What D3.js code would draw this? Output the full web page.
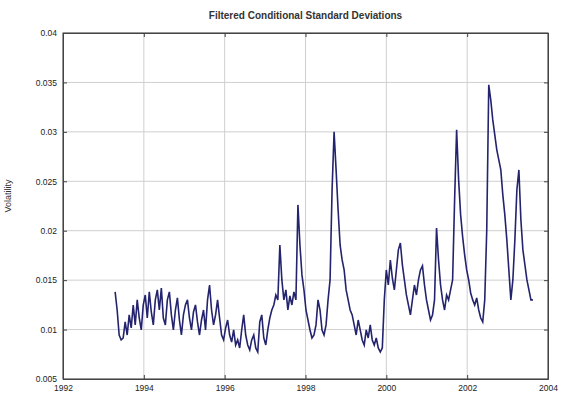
<!DOCTYPE html>
<html lang="en">
<head>
    <meta charset="UTF-8">
    <title>Filtered Conditional Standard Deviations</title>
    <script src="https://cdn.jsdelivr.net/npm/d3@7/dist/d3.min.js"></script>
</head>
<style>
        body, html {
            margin: 0;
            background: #fff;
        }
        svg {
            display: block;
            font-family: "Liberation Sans", Arial, sans-serif;
        }
        .chart-title {
            font-size: 10px;
            font-weight: bold;
            text-anchor: middle;
        }
        .axis-label {
            font-size: 9px;
        }
</style>
<body>
    <svg></svg>
    <script>
        // series starts at 1993.29 and is sampled every ~0.05 year
        const startYear = 1993.29;
        const stepYear = 0.0497;

        // conditional standard deviations
        const volatility = [
            0.01381, 0.01198, 0.00945, 0.00895, 0.00915, 0.01077, 0.00945, 0.01148, 0.01016, 0.01249,
            0.01047, 0.01300, 0.01117, 0.00996, 0.01249, 0.01350, 0.01117, 0.01381, 0.01178, 0.01047,
            0.01300, 0.01401, 0.01198, 0.01421, 0.01117, 0.01047, 0.01300, 0.01381, 0.01148, 0.00996,
            0.01198, 0.01320, 0.01097, 0.00945, 0.01148, 0.01249, 0.01300, 0.01117, 0.00996, 0.01178,
            0.01249, 0.01077, 0.00945, 0.01097, 0.01198, 0.00996, 0.01300, 0.01451, 0.01198, 0.01047,
            0.01148, 0.01300, 0.01117, 0.00945, 0.00895, 0.01016, 0.01097, 0.00945, 0.00874, 0.00996,
            0.00844, 0.00895, 0.00814, 0.00996, 0.01148, 0.00945, 0.00844, 0.00794, 0.00895, 0.00945,
            0.00814, 0.00773, 0.01077, 0.01148, 0.00915, 0.00844, 0.00996, 0.01117, 0.01198, 0.01249,
            0.01350, 0.01300, 0.01856, 0.01502, 0.01300, 0.01401, 0.01198, 0.01340, 0.01249, 0.01381,
            0.01300, 0.02261, 0.01856, 0.01553, 0.01401, 0.01198, 0.01097, 0.00996, 0.00915, 0.00945,
            0.01047, 0.01300, 0.01198, 0.00996, 0.00945, 0.01047, 0.01300, 0.01502, 0.02413, 0.03000,
            0.02615, 0.02210, 0.01856, 0.01704, 0.01603, 0.01401, 0.01300, 0.01198, 0.01148, 0.01047,
            0.00945, 0.01097, 0.00996, 0.00895, 0.00844, 0.00996, 0.00915, 0.01047, 0.00895, 0.00844,
            0.00915, 0.00814, 0.00773, 0.00814, 0.01300, 0.01603, 0.01451, 0.01704, 0.01522, 0.01401,
            0.01603, 0.01806, 0.01876, 0.01654, 0.01502, 0.01350, 0.01249, 0.01148, 0.01300, 0.01451,
            0.01350, 0.01502, 0.01603, 0.01644, 0.01451, 0.01300, 0.01198, 0.01097, 0.01148, 0.01300,
            0.02028, 0.01704, 0.01451, 0.01300, 0.01198, 0.01350, 0.01300, 0.01401, 0.01502, 0.02312,
            0.03020, 0.02514, 0.02160, 0.01937, 0.01755, 0.01603, 0.01502, 0.01370, 0.01300, 0.01249,
            0.01320, 0.01198, 0.01117, 0.01077, 0.01300, 0.02008, 0.03476, 0.03324, 0.03121, 0.02970,
            0.02818, 0.02717, 0.02615, 0.02362, 0.02160, 0.01907, 0.01603, 0.01300, 0.01502, 0.01907,
            0.02413, 0.02615, 0.02109, 0.01806, 0.01654, 0.01502, 0.01401, 0.01300, 0.01300
        ];

        const yTicks = [0.005, 0.01, 0.015, 0.02, 0.025, 0.03, 0.035, 0.04];
        const xTicks = [1992, 1994, 1996, 1998, 2000, 2002, 2004];

        const W = 567, H = 404;
        const margin = {top: 33, right: 19, bottom: 25, left: 63};
        const width = W - margin.left - margin.right;
        const height = H - margin.top - margin.bottom;

        const svgElement = d3.select("svg")
            .attr("width", W)
            .attr("height", H);

        const svg = svgElement.append("g")
            .attr("transform", `translate(${margin.left},${margin.top})`);

        const x = d3.scaleLinear().domain([1992, 2004]).range([0, width]);
        const y = d3.scaleLinear().domain([0.005, 0.04]).range([height, 0]);

        // grid
        svg.append("g")
            .selectAll("line")
            .data(xTicks)
            .join("line")
            .attr("x1", d => x(d)).attr("x2", d => x(d))
            .attr("y1", 0).attr("y2", height)
            .attr("stroke", "#cfcfcf");
        svg.append("g")
            .selectAll("line")
            .data(yTicks)
            .join("line")
            .attr("x1", 0).attr("x2", width)
            .attr("y1", d => y(d)).attr("y2", d => y(d))
            .attr("stroke", "#cfcfcf");

        // the series
        const line = d3.line()
            .x((d, i) => x(startYear + i * stepYear))
            .y(d => y(d));

        svg.append("path")
            .datum(volatility)
            .attr("fill", "none")
            .attr("stroke", "#23236e")
            .attr("stroke-width", 1.6)
            .attr("d", line);

        // axes, ticks pointing inward
        svg.append("g")
            .attr("transform", `translate(0,${height})`)
            .call(d3.axisBottom(x).tickValues(xTicks).tickFormat(d3.format("d")).tickSizeInner(-4).tickSizeOuter(0).tickPadding(6));
        svg.append("g")
            .call(d3.axisLeft(y).tickValues(yTicks).tickFormat(d => d3.format("")(+d.toFixed(3))).tickSizeInner(-4).tickSizeOuter(0).tickPadding(6));

        svg.append("g")
            .call(d3.axisTop(x).tickValues(xTicks).tickFormat("").tickSizeInner(-4).tickSizeOuter(0));
        svg.append("g")
            .attr("transform", `translate(${width},0)`)
            .call(d3.axisRight(y).tickValues(yTicks).tickFormat("").tickSizeInner(-4).tickSizeOuter(0));

        svg.selectAll(".domain").attr("stroke", "#444");
        svg.selectAll(".tick line").attr("stroke", "#444");
        svg.selectAll(".tick text")
            .attr("fill", "#222")
            .style("font-size", "8.5px");

        // box
        svg.append("rect")
            .attr("width", width)
            .attr("height", height)
            .attr("fill", "none")
            .attr("stroke", "#444");

        // title
        svg.append("text")
            .attr("class", "chart-title")
            .attr("x", width / 2)
            .attr("y", -14)
            .attr("fill", "#333")
            .text("Filtered Conditional Standard Deviations");

        // y label
        svg.append("text")
            .attr("class", "axis-label")
            .attr("transform", "rotate(-90)")
            .attr("x", -height / 2 + 10)
            .attr("y", -52)
            .attr("text-anchor", "middle")
            .attr("fill", "#333")
            .text("Volatility");
    </script>
</body>
</html>
